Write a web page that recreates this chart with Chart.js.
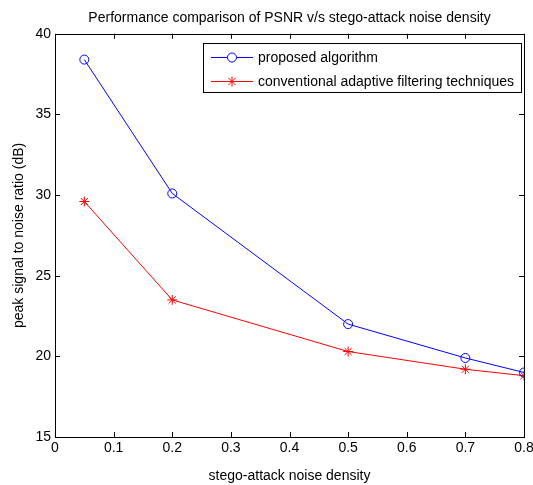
<!DOCTYPE html>
<html>
<head>
<meta charset="utf-8">
<script src="https://cdn.jsdelivr.net/npm/chart.js@4.4.0/dist/chart.umd.min.js"></script>
<style>
  html, body { margin: 0; padding: 0; background: #fff; }
</style>
</head>
<body>
<canvas id="psnrChart" width="533" height="485"></canvas>
<script>
// values
const noiseDensity = [0.05, 0.2, 0.5, 0.7, 0.8];
const proposedPsnr = [38.4, 30.1, 22.0, 19.9, 19.0];
const conventionalPsnr = [29.6, 23.5, 20.3, 19.2, 18.8];
const xTickValues = [0, 0.1, 0.2, 0.3, 0.4, 0.5, 0.6, 0.7, 0.8];
const yTickValues = [15, 20, 25, 30, 35, 40];
const seriesNames = ["proposed algorithm", "conventional adaptive filtering techniques"];

const fontFamily = "'Liberation Sans', Arial, Helvetica, sans-serif";

function toPoints(xs, ys) {
  return xs.map((x, i) => ({ x: x, y: ys[i] }));
}

// matlab style frame: box, inward ticks, legend in the upper right
const matlabFrame = {
  id: "matlabFrame",
  afterDraw(chart) {
    const ctx = chart.ctx;
    const area = chart.chartArea;
    const xs = chart.scales.x;
    const ys = chart.scales.y;
    const tick = 5;

    ctx.save();
    ctx.strokeStyle = "#000";
    ctx.lineWidth = 1;
    ctx.strokeRect(Math.round(area.left) + 0.5, Math.round(area.top) + 0.5,
      Math.round(area.right - area.left), Math.round(area.bottom - area.top));

    ctx.beginPath();
    xTickValues.forEach(v => {
      const px = Math.round(xs.getPixelForValue(v)) + 0.5;
      ctx.moveTo(px, area.bottom);
      ctx.lineTo(px, area.bottom - tick);
      ctx.moveTo(px, area.top);
      ctx.lineTo(px, area.top + tick);
    });
    yTickValues.forEach(v => {
      const py = Math.round(ys.getPixelForValue(v)) + 0.5;
      ctx.moveTo(area.left, py);
      ctx.lineTo(area.left + tick, py);
      ctx.moveTo(area.right, py);
      ctx.lineTo(area.right - tick, py);
    });
    ctx.stroke();

    // legend box
    const box = { left: 203, top: 43, width: 318, height: 49 };
    ctx.fillStyle = "#fff";
    ctx.fillRect(box.left, box.top, box.width, box.height);
    ctx.strokeRect(box.left + 0.5, box.top + 0.5, box.width, box.height);

    ctx.font = "14px " + fontFamily;
    ctx.textBaseline = "middle";
    ctx.textAlign = "left";
    chart.data.datasets.forEach((ds, i) => {
      const y = 57 + i * 24;
      ctx.strokeStyle = ds.borderColor;
      ctx.lineWidth = 1;
      ctx.beginPath();
      ctx.moveTo(211, y + 0.5);
      ctx.lineTo(253, y + 0.5);
      ctx.stroke();
      ctx.fillStyle = "#fff";
      Chart.helpers.drawPoint(ctx, {
        pointStyle: ds.pointStyle,
        radius: ds.pointRadius,
        borderWidth: 1,
        rotation: 0
      }, 232, y + 0.5);
      ctx.fillStyle = "#000";
      ctx.fillText(ds.label, 258, y + 1);
    });
    ctx.restore();
  }
};

new Chart(document.getElementById("psnrChart").getContext("2d"), {
  type: "scatter",
  data: {
    datasets: [
      {
        label: seriesNames[0],
        data: toPoints(noiseDensity, proposedPsnr),
        showLine: true,
        borderColor: "#0000ff",
        backgroundColor: "rgba(0,0,0,0)",
        borderWidth: 1,
        pointStyle: "circle",
        pointRadius: 4.5,
        pointBorderWidth: 1,
        tension: 0
      },
      {
        label: seriesNames[1],
        data: toPoints(noiseDensity, conventionalPsnr),
        showLine: true,
        borderColor: "#ff0000",
        backgroundColor: "rgba(0,0,0,0)",
        borderWidth: 1,
        pointStyle: "star",
        pointRadius: 5,
        pointBorderWidth: 1,
        tension: 0
      }
    ]
  },
  options: {
    responsive: false,
    animation: false,
    layout: { padding: { left: 0, right: 9, top: 0, bottom: 0 } },
    plugins: {
      legend: { display: false },
      tooltip: { enabled: false },
      title: {
        display: true,
        text: "Performance comparison of PSNR v/s stego-attack noise density",
        fullSize: false,
        color: "#000",
        font: { family: fontFamily, size: 14, weight: "normal" },
        padding: { top: 10, bottom: 7 }
      }
    },
    scales: {
      x: {
        type: "linear",
        min: 0,
        max: 0.8,
        afterBuildTicks: scale => { scale.ticks = xTickValues.map(v => ({ value: v })); },
        afterFit: scale => {
          scale.height = 48;
          scale.paddingLeft = 0;
          scale.paddingRight = 0;
        },
        grid: { display: false, drawTicks: false },
        border: { display: false },
        ticks: {
          color: "#000",
          padding: 3,
          maxRotation: 0,
          autoSkip: false,
          font: { family: fontFamily, size: 14 },
          callback: v => String(v)
        },
        title: {
          display: true,
          text: "stego-attack noise density",
          color: "#000",
          font: { family: fontFamily, size: 14 },
          padding: { top: 0, bottom: 0 }
        }
      },
      y: {
        type: "linear",
        min: 15,
        max: 40,
        afterBuildTicks: scale => { scale.ticks = yTickValues.map(v => ({ value: v })); },
        afterFit: scale => {
          scale.width = 55;
          scale.paddingTop = 0;
          scale.paddingBottom = 0;
        },
        grid: { display: false, drawTicks: false },
        border: { display: false },
        ticks: {
          color: "#000",
          padding: 4,
          autoSkip: false,
          font: { family: fontFamily, size: 14 },
          callback: v => String(v)
        },
        title: {
          display: true,
          text: "peak signal to noise ratio (dB)",
          color: "#000",
          font: { family: fontFamily, size: 14 },
          padding: { top: 11, bottom: 0 }
        }
      }
    }
  },
  plugins: [matlabFrame]
});
</script>
</body>
</html>
